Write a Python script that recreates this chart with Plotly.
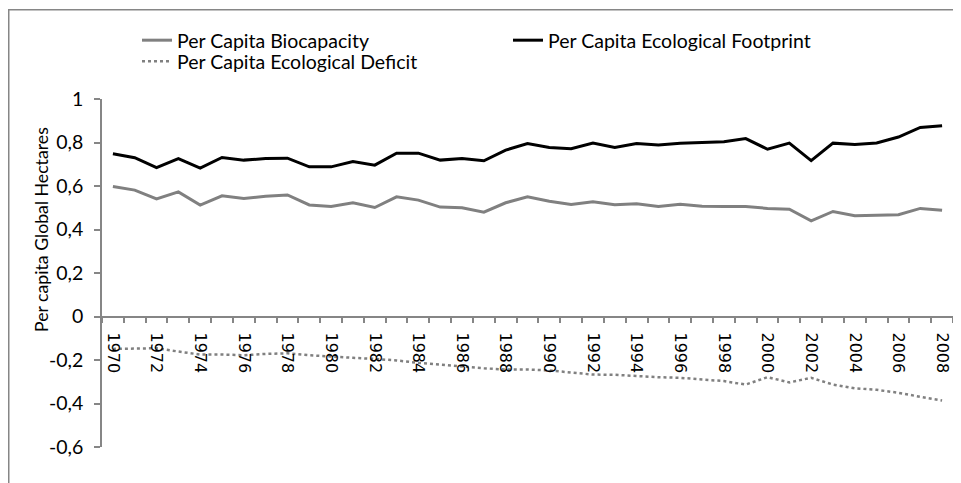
import plotly.graph_objects as go

years = [str(y) for y in range(1970, 2009)]

biocapacity = [0.598, 0.581, 0.541, 0.573, 0.512, 0.555, 0.543, 0.553, 0.559, 0.513,
               0.506, 0.523, 0.501, 0.550, 0.535, 0.503, 0.500, 0.480, 0.523, 0.550,
               0.530, 0.515, 0.527, 0.514, 0.518, 0.506, 0.516, 0.507, 0.506, 0.506,
               0.497, 0.493, 0.440, 0.483, 0.463, 0.464, 0.468, 0.497, 0.489]

footprint = [0.748, 0.730, 0.684, 0.726, 0.682, 0.731, 0.719, 0.726, 0.728, 0.688,
             0.688, 0.713, 0.696, 0.751, 0.751, 0.719, 0.726, 0.716, 0.765, 0.795,
             0.777, 0.771, 0.797, 0.777, 0.795, 0.789, 0.796, 0.799, 0.803, 0.818,
             0.769, 0.797, 0.717, 0.797, 0.791, 0.798, 0.825, 0.869, 0.877]

deficit = [-0.149, -0.149, -0.146, -0.161, -0.175, -0.175, -0.178, -0.172, -0.169, -0.178,
           -0.185, -0.190, -0.195, -0.202, -0.213, -0.222, -0.231, -0.238, -0.244, -0.244,
           -0.248, -0.259, -0.267, -0.268, -0.274, -0.279, -0.282, -0.290, -0.297, -0.313,
           -0.279, -0.303, -0.282, -0.313, -0.330, -0.337, -0.351, -0.369, -0.386]

x_ticktext = [y if int(y) % 2 == 0 else "" for y in years]
y_tickvals = [-0.6, -0.4, -0.2, 0, 0.2, 0.4, 0.6, 0.8, 1]
y_ticktext = ["-0,6", "-0,4", "-0,2", "0", "0,2", "0,4", "0,6", "0,8", "1"]

AX = "#868686"
FONT = "Lato"
FS = 19.5

# page body has an 8px margin; work in screenshot pixels and convert
OFF = 8
W, H = 961 - OFF, 483 - OFF
ml = 102 - OFF
mt = 99 - OFF
plot_right = 953 - OFF
plot_bottom = 447 - OFF
mr = W - plot_right
mb = H - plot_bottom
pw = plot_right - ml
ph = plot_bottom - mt


def px(xs):
    return (xs - OFF - ml) / pw


def py(ys):
    return (plot_bottom - (ys - OFF)) / ph


fig = go.Figure()
fig.add_trace(go.Scatter(x=years, y=biocapacity, mode="lines", name="Per Capita Biocapacity",
                         line=dict(color="#808080", width=3), legend="legend"))
fig.add_trace(go.Scatter(x=years, y=footprint, mode="lines", name="Per Capita Ecological Footprint",
                         line=dict(color="#000000", width=3), legend="legend"))
fig.add_trace(go.Scatter(x=years, y=deficit, mode="lines", name="Per Capita Ecological Deficit",
                         line=dict(color="#808080", width=2.5, dash="dot"), legend="legend2"))

fig.update_layout(
    width=W, height=H,
    margin=dict(l=ml, r=mr, t=mt, b=mb, pad=0),
    paper_bgcolor="white", plot_bgcolor="white",
    font=dict(family=FONT, size=FS, color="#000000"),
    showlegend=True,
    legend=dict(orientation="h", x=px(137), xanchor="left",
                y=py(21), yanchor="top",
                entrywidth=326, entrywidthmode="pixels",
                font=dict(family=FONT, size=FS), bgcolor="rgba(0,0,0,0)"),
    legend2=dict(orientation="h", x=px(137), xanchor="left",
                 y=py(42), yanchor="top",
                 font=dict(family=FONT, size=FS), bgcolor="rgba(0,0,0,0)"),
    xaxis=dict(type="category", range=[-0.5, 38.5], anchor="free",
               position=0.6 / 1.6, showgrid=False, zeroline=False,
               showline=True, linecolor=AX, linewidth=1.5,
               ticks="outside", tickson="boundaries", ticklen=6, tickcolor=AX, tickwidth=1.5,
               tickvals=years, ticktext=x_ticktext, tickangle=90,
               ticklabeloverflow="allow", ticklabelstandoff=12,
               tickfont=dict(family="DejaVu Sans", size=16)),
    yaxis=dict(range=[-0.6, 1], showgrid=False, zeroline=False,
               showline=True, linecolor=AX, linewidth=1.5,
               ticks="outside", ticklen=6, tickcolor=AX, tickwidth=1.5,
               tickvals=y_tickvals, ticktext=y_ticktext,
               ticklabelstandoff=7,
               tickfont=dict(family=FONT, size=FS)),
)

fig.add_annotation(text="Per capita Global Hectares", xref="paper", yref="paper",
                   x=px(42), y=py(230), textangle=-90,
                   showarrow=False, xanchor="center", yanchor="middle",
                   font=dict(family=FONT, size=17.7))

fig.add_shape(type="rect", xref="paper", yref="paper",
              x0=px(OFF + 0.75), x1=px(975),
              y0=py(500), y1=py(OFF + 1.75),
              line=dict(color=AX, width=1.5), fillcolor="rgba(0,0,0,0)", layer="below")

fig.write_html("out.html")
